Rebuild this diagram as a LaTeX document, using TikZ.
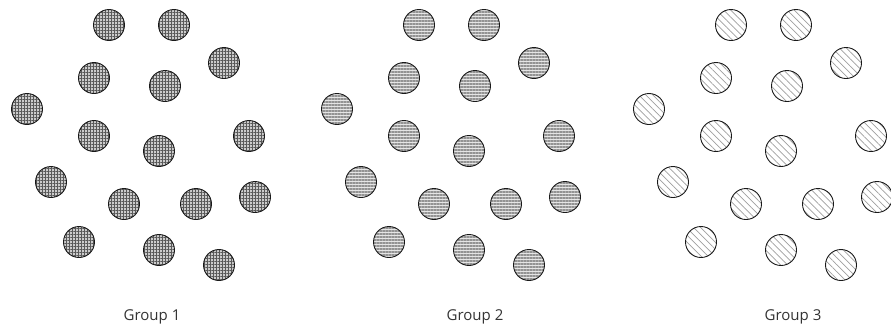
\documentclass[tikz,border=0pt]{standalone}
\usepackage{fontspec}
\setmainfont{Open Sans}
\usetikzlibrary{patterns.meta}

\begin{document}
\begin{tikzpicture}[
  x=1pt, y=-1pt,
  ball/.style={circle, draw=black!90, line width=0.9pt, minimum size=31pt, inner sep=0pt},
  gridball/.style={ball, preaction={fill=gray!40},
    pattern={Hatch[angle=0, distance=3pt, line width=0.9pt]}, pattern color=black!65},
  hlineball/.style={ball, preaction={fill=gray!20},
    pattern={Lines[angle=0, distance=3pt, line width=1.2pt]}, pattern color=gray!85},
  diagball/.style={ball, preaction={fill=white},
    pattern={Lines[angle=-45, distance=5pt, line width=0.7pt]}, pattern color=gray!75},
  caption/.style={font=\fontsize{15}{18}\selectfont, text=black!80},
]
  \useasboundingbox (0,0) rectangle (891,333);

  % same scatter for every group, shifted sideways
  \foreach \g/\dx/\sty in {1/0/gridball, 2/310/hlineball, 3/622/diagball}{
    \foreach \px/\py [count=\i] in {109/25, 174/25, 224/63, 94/78, 165/86,
        27/109, 94/136, 249/136, 159/151, 51/182, 124/204, 196/204,
        255/197, 79/242, 159/250, 219/265}{
      \node[\sty] (g\g-\i) at (\px+\dx,\py) {};
    }
  }

  \node[caption] (lab1) at (152,317) {Group 1};
  \node[caption] (lab2) at (475,317) {Group 2};
  \node[caption] (lab3) at (793,317) {Group 3};
\end{tikzpicture}
\end{document}
